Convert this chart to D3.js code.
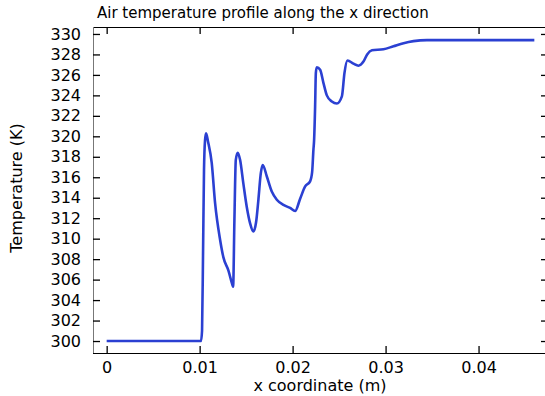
<!DOCTYPE html>
<meta charset="utf-8">
<script src="https://d3js.org/d3.v7.min.js"></script>
<style>
body{margin:0; background:#fff;}
text{font-family:"DejaVu Sans", sans-serif; fill:#000;}
</style>
<div id="vis"></div>
<script>

// Data
var xCoord = [0, 0.01015, 0.01026, 0.01037, 0.01047, 0.01058, 0.01069, 0.01090, 0.01130, 0.01166,
  0.01220, 0.01255, 0.01309, 0.01352, 0.01360, 0.01374, 0.01389, 0.01410, 0.01435, 0.01470,
  0.01507, 0.01543, 0.01578, 0.01607, 0.01632, 0.01658, 0.01679, 0.01722, 0.01776, 0.01830,
  0.01901, 0.01973, 0.02027, 0.02081, 0.02135, 0.02188, 0.02210, 0.02224, 0.02231, 0.02242,
  0.02250, 0.02260, 0.02296, 0.02332, 0.02368, 0.02422, 0.02476, 0.02530, 0.02558, 0.02590,
  0.02654, 0.02708, 0.02762, 0.02802, 0.02853, 0.02977, 0.03085, 0.03193, 0.03300, 0.03445, 0.0460];
var temperature = [300, 300, 301.0, 308.9, 316.7, 319.6, 320.3, 319.5, 317.4, 313.5,
  309.9, 308.2, 306.9, 305.5, 305.3, 311.8, 317.7, 318.4, 317.7, 315.4,
  313.1, 311.5, 310.7, 311.6, 313.8, 316.4, 317.2, 316.1, 314.6, 313.8,
  313.3, 313.0, 312.7, 313.9, 315.1, 315.6, 316.5, 318.7, 319.6, 322.9,
  326.2, 326.75, 326.5, 325.2, 324.0, 323.4, 323.2, 323.9, 326.2, 327.4,
  327.1, 326.9, 327.3, 328.0, 328.4, 328.5, 328.8, 329.1, 329.3, 329.4, 329.4];
var xTicks = [0, 0.01, 0.02, 0.03, 0.04];
var yTicks = [300, 302, 304, 306, 308, 310, 312, 314, 316, 318, 320, 322, 324, 326, 328, 330];

var data = xCoord.map(function(d, i) { return {x: d, t: temperature[i]}; });

var w = 545, h = 396;
var margin = {top: 27, right: -3, bottom: 43, left: 93};
var width = w - margin.left - margin.right,
    height = h - margin.top - margin.bottom;

var svg = d3.select("#vis").append("svg")
    .attr("width", w)
    .attr("height", h);

var g = svg.append("g")
    .attr("transform", "translate(" + margin.left + "," + margin.top + ")");

var x = d3.scaleLinear().domain([-0.00147, 0.04747]).range([0, width]);
var y = d3.scaleLinear().domain([298.83, 330.68]).range([height, 0]);

// frame
g.append("line").attr("x1", 0).attr("x2", width).attr("y1", 0.5).attr("y2", 0.5)
  .attr("stroke", "#000");
g.append("line").attr("x1", 0).attr("x2", width).attr("y1", height + 0.5).attr("y2", height + 0.5)
  .attr("stroke", "#000");
g.append("line").attr("x1", 0.5).attr("x2", 0.5).attr("y1", 0).attr("y2", height)
  .attr("stroke", "#777");
g.append("line").attr("x1", width - 0.5).attr("x2", width - 0.5).attr("y1", 0).attr("y2", height)
  .attr("stroke", "#000");

// axes, ticks pointing inside
var fmt = function(d) { return d === 0 ? "0" : d3.format(".2")(d); };

var xb = g.append("g").attr("transform", "translate(0," + height + ")")
  .call(d3.axisBottom(x).tickValues(xTicks).tickSize(-7).tickPadding(9).tickFormat(fmt));
var xt = g.append("g")
  .call(d3.axisTop(x).tickValues(xTicks).tickSize(-7).tickFormat(""));
var yl = g.append("g")
  .call(d3.axisLeft(y).tickValues(yTicks).tickSize(-7).tickPadding(12));
var yr = g.append("g").attr("transform", "translate(" + width + ",0)")
  .call(d3.axisRight(y).tickValues(yTicks).tickSize(-7).tickFormat(""));

[xb, xt, yl, yr].forEach(function(a) {
  a.select(".domain").remove();
  a.selectAll(".tick line").attr("stroke", "#000").attr("stroke-width", 1.3);
  a.selectAll("text").style("font-family", "DejaVu Sans").style("font-size", "16px").attr("fill", "#000");
});

// the curve
g.append("path")
  .datum(data)
  .attr("fill", "none")
  .attr("stroke", "#2b40d2")
  .attr("stroke-width", 2.6)
  .attr("stroke-linejoin", "round")
  .attr("d", d3.line()
    .curve(d3.curveMonotoneX)
    .x(function(d) { return x(d.x); })
    .y(function(d) { return y(d.t); }));

// labels
svg.append("text")
  .attr("x", 97).attr("y", 18)
  .style("font-size", "15px")
  .text("Air temperature profile along the x direction");

svg.append("text")
  .attr("x", 320).attr("y", 391)
  .attr("text-anchor", "middle")
  .style("font-size", "16px")
  .text("x coordinate (m)");

svg.append("text")
  .attr("transform", "translate(22,188) rotate(-90)")
  .attr("text-anchor", "middle")
  .style("font-size", "16px")
  .text("Temperature (K)");

</script>
